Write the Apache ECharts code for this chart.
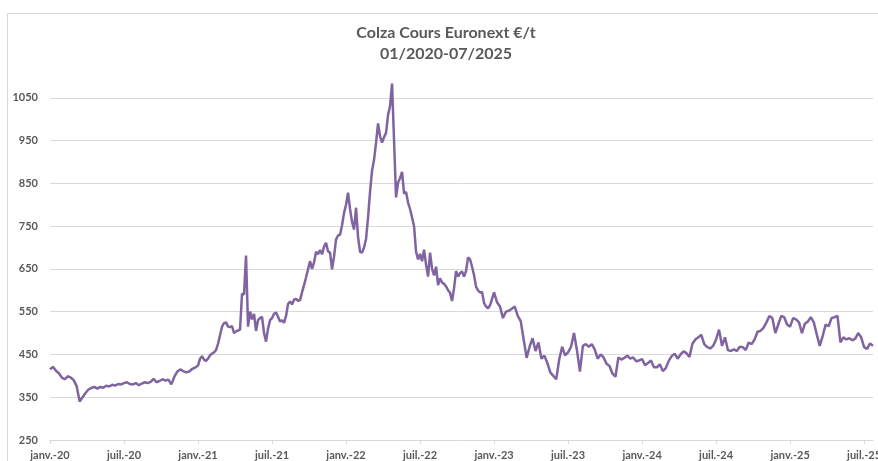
<!DOCTYPE html>
<html>
<head>
<meta charset="utf-8">
<script src="https://cdn.jsdelivr.net/npm/echarts@6/dist/echarts.min.js"></script>
<style>
  html, body { margin: 0; padding: 0; background: #fff; overflow: hidden; }
  /* un peu plus large que la fenêtre : le dernier libellé est coupé comme dans Excel */
  #chart { width: 892px; height: 461px; }
</style>
</head>
<body>
<div id="chart"></div>
<script>
// prix colza Euronext (€/t), relevés à peu près hebdomadaires, par semestre
const h1_2020 = [415, 421, 412, 406, 396, 392, 399, 396, 390, 376, 340, 350, 360, 368, 372, 374, 370, 374, 372, 377, 375, 379, 377, 381, 380];
const h2_2020 = [383, 385, 381, 380, 383, 378, 382, 385, 383, 386, 393, 385, 388, 392, 389, 391, 380, 398, 410, 415, 411, 408, 410, 416, 419];
const h1_2021 = [424, 440, 446, 438, 435, 440, 448, 452, 455, 460, 475, 495, 515, 523, 525, 515, 514, 516, 500, 504, 506, 508, 592, 590, 681, 515, 550, 532, 545, 505, 530, 535, 538, 500, 480, 510, 530];
const h2_2021 = [535, 545, 548, 538, 527, 530, 524, 540, 568, 574, 567, 578, 580, 575, 577, 595, 612, 630, 649, 668, 650, 665, 690, 684, 694, 684, 702, 711, 691, 688, 649, 679, 719, 728, 730, 752, 781];
const h1_2022 = [800, 828, 790, 760, 742, 793, 725, 690, 688, 700, 720, 770, 830, 880, 905, 945, 990, 960, 945, 958, 968, 1010, 1030, 1083, 950, 817, 852, 862, 877, 826, 830, 805, 790, 770, 750, 690, 672];
const h2_2022 = [685, 668, 695, 660, 632, 688, 650, 635, 655, 612, 628, 618, 615, 609, 600, 594, 575, 605, 645, 632, 640, 644, 632, 645, 677, 672, 655, 635, 608, 600, 595, 596, 570, 562, 558, 565, 580];
const h1_2023 = [595, 572, 562, 535, 550, 552, 557, 562, 540, 528, 485, 442, 468, 488, 458, 478, 440, 447, 430, 408, 400, 392, 438, 468, 448];
const h2_2023 = [455, 468, 500, 460, 410, 470, 474, 468, 474, 462, 440, 450, 443, 428, 423, 405, 398, 443, 438, 442, 447, 440, 443, 434, 436];
const h1_2024 = [439, 425, 430, 436, 420, 420, 427, 411, 418, 435, 446, 452, 440, 450, 457, 453, 444, 475, 485, 490, 496, 474, 467, 464, 470];
const h2_2024 = [485, 508, 470, 490, 460, 458, 462, 458, 468, 467, 460, 478, 474, 485, 503, 505, 512, 525, 540, 535, 500, 520, 540, 537, 520];
const h1_2025 = [515, 535, 532, 525, 500, 522, 527, 537, 525, 497, 470, 493, 520, 516, 535, 537, 540, 478, 490, 485, 488, 483, 487, 500, 490];
const h2_2025 = [467, 463, 476, 470];

const tickLabels = ['janv.-20', 'juil.-20', 'janv.-21', 'juil.-21', 'janv.-22', 'juil.-22',
  'janv.-23', 'juil.-23', 'janv.-24', 'juil.-24', 'janv.-25', 'juil.-25'];

// x = mois depuis janvier 2020
const halves = [h1_2020, h2_2020, h1_2021, h2_2021, h1_2022, h2_2022,
  h1_2023, h2_2023, h1_2024, h2_2024, h1_2025];
const points = [];
halves.forEach((vals, k) => {
  const step = 6 / vals.length;
  vals.forEach((v, i) => points.push([k * 6 + i * step, v]));
});
h2_2025.forEach((v, i) => points.push([66 + i * 6 / 25, v]));

const grey = '#595959';
const chart = echarts.init(document.getElementById('chart'));
chart.setOption({
  animation: false,
  textStyle: { fontFamily: 'Lato' },
  title: {
    text: 'Colza Cours Euronext €/t\n01/2020-07/2025',
    left: 'center',
    top: 22,
    padding: [0, 4, 0, 0],
    textStyle: { fontSize: 16, fontWeight: 'bold', color: grey, lineHeight: 21, fontFamily: 'Lato' }
  },
  grid: { left: 50, right: 19, top: 55, bottom: 20 },
  xAxis: {
    type: 'value',
    min: 0,
    max: 66.72,
    interval: 6,
    axisLine: { lineStyle: { color: '#d9d9d9' } },
    axisTick: { length: 4, lineStyle: { color: '#d9d9d9' } },
    splitLine: { show: false },
    axisLabel: {
      margin: 10,
      fontSize: 11,
      fontWeight: 'bold',
      color: grey,
      showMaxLabel: false,
      formatter: v => (v % 6 === 0 ? tickLabels[v / 6] || '' : '')
    }
  },
  yAxis: {
    type: 'value',
    min: 250,
    max: 1150,
    interval: 100,
    axisLine: { show: false },
    axisTick: { show: false },
    splitLine: { showMaxLine: false, lineStyle: { color: '#d9d9d9' } },
    axisLabel: {
      margin: 12, fontSize: 11, fontWeight: 'bold', color: grey, showMaxLabel: false,
      formatter: v => String(v)
    }
  },
  series: [{
    type: 'line',
    data: points,
    symbol: 'none',
    clip: false,
    lineStyle: { color: '#8064A2', width: 2.5 }
  }],
  graphic: [{
    type: 'rect',
    silent: true,
    z: -1,
    shape: { x: 7.5, y: 13.5, width: 900, height: 500 },
    style: { fill: 'none', stroke: '#d9d9d9', lineWidth: 1 }
  }]
});
</script>
</body>
</html>
